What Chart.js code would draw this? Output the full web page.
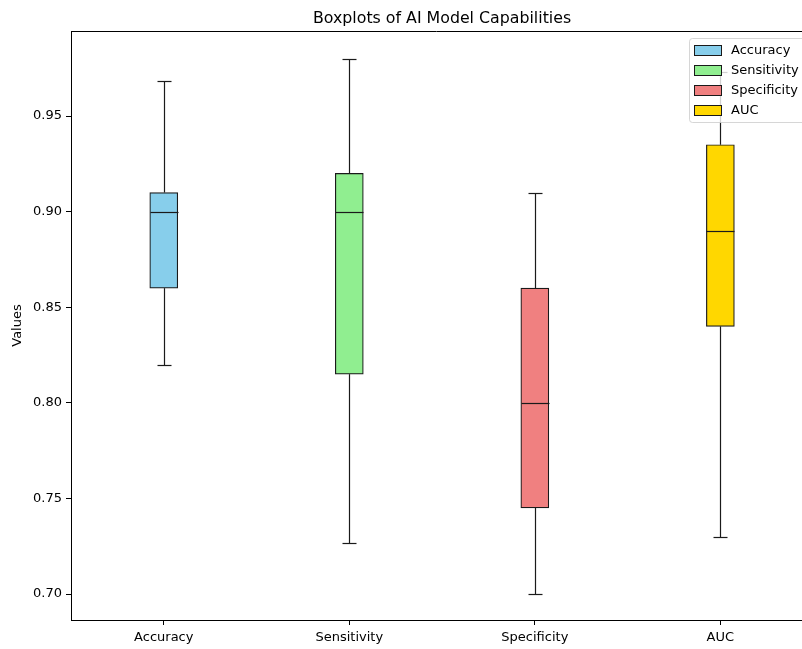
<!DOCTYPE html>
<html lang="en">
<head>
    <meta charset="UTF-8">
    <title>Boxplots of AI Model Capabilities</title>
    <script src="https://cdn.jsdelivr.net/npm/chart.js"></script>
    <style>
        html, body { margin: 0; padding: 0; background: #fff; }
        #wrap { width: 802px; height: 649px; }
    </style>
</head>
<body>
    <div id="wrap"><canvas id="boxChart"></canvas></div>

    <script>
        // values
        const categories = ['Accuracy', 'Sensitivity', 'Specificity', 'AUC'];
        const lowWhiskers = [0.82, 0.7265, 0.70, 0.73];
        const lowerQuartiles = [0.86, 0.815, 0.745, 0.84];
        const medians = [0.90, 0.90, 0.80, 0.89];
        const upperQuartiles = [0.91, 0.92, 0.86, 0.935];
        const highWhiskers = [0.9685, 0.98, 0.91, 0.973];
        const boxColors = ['#87ceeb', '#90ee90', '#f08080', '#ffd700'];
        const yTickValues = [0.70, 0.75, 0.80, 0.85, 0.90, 0.95];

        const FONT = 'DejaVu Sans';

        // whiskers, medians, frame, title and legend drawn on top of the bars
        const boxExtras = {
            id: 'boxExtras',
            afterDatasetsDraw(chart) {
                const { ctx, chartArea, scales: { x, y } } = chart;
                const boxW = 28, capW = 14;
                ctx.save();
                ctx.lineWidth = 1.2;
                ctx.strokeStyle = '#1a1a1a';
                categories.forEach((c, i) => {
                    const px = Math.round(x.getPixelForValue(i + 1)) + 0.5;
                    const line = (x1, y1, x2, y2) => {
                        ctx.beginPath();
                        ctx.moveTo(x1, y1);
                        ctx.lineTo(x2, y2);
                        ctx.stroke();
                    };
                    const yMin = Math.round(y.getPixelForValue(lowWhiskers[i])) + 0.5;
                    const yMax = Math.round(y.getPixelForValue(highWhiskers[i])) + 0.5;
                    line(px, y.getPixelForValue(upperQuartiles[i]), px, yMax);
                    line(px, y.getPixelForValue(lowerQuartiles[i]), px, yMin);
                    line(px - capW / 2, yMax, px + capW / 2, yMax);
                    line(px - capW / 2, yMin, px + capW / 2, yMin);
                    const yMed = Math.round(y.getPixelForValue(medians[i])) + 0.5;
                    line(px - boxW / 2, yMed, px + boxW / 2, yMed);
                });

                // top spine
                ctx.lineWidth = 1;
                ctx.strokeStyle = '#000';
                ctx.beginPath();
                ctx.moveTo(chartArea.left, chartArea.top + 0.5);
                ctx.lineTo(chartArea.right, chartArea.top + 0.5);
                ctx.stroke();

                // title centred on the full axes (which run past the canvas edge)
                const mid = (x.getPixelForValue(0.5) + x.getPixelForValue(4.5)) / 2;
                ctx.fillStyle = '#000';
                ctx.font = '15.8px "' + FONT + '"';
                ctx.textAlign = 'center';
                ctx.textBaseline = 'middle';
                ctx.fillText('Boxplots of AI Model Capabilities', mid, 18.5);

                // legend in the upper right corner
                const lx = 689, ly = 38, lw = 130, lh = 84;
                ctx.globalAlpha = 0.8;
                ctx.fillStyle = '#fff';
                ctx.strokeStyle = '#ccc';
                ctx.beginPath();
                ctx.roundRect(lx + 0.5, ly + 0.5, lw, lh, 3);
                ctx.fill();
                ctx.stroke();
                ctx.globalAlpha = 1;
                ctx.font = '13px "' + FONT + '"';
                ctx.textAlign = 'left';
                categories.forEach((c, i) => {
                    const cy = 50 + i * 20;
                    ctx.fillStyle = boxColors[i];
                    ctx.fillRect(694, cy - 5, 28, 10);
                    ctx.strokeStyle = '#1a1a1a';
                    ctx.strokeRect(694.5, cy - 4.5, 27, 10);
                    ctx.fillStyle = '#000';
                    ctx.fillText(c, 731, cy + 0.5);
                });
                ctx.restore();
            }
        };

        const ctx = document.getElementById('boxChart').getContext('2d');
        const boxChart = new Chart(ctx, {
            type: 'bar',
            data: {
                datasets: [{
                    label: 'Boxes',
                    data: categories.map((c, i) => ({ x: i + 1, y: [lowerQuartiles[i], upperQuartiles[i]] })),
                    backgroundColor: boxColors,
                    borderColor: '#1a1a1a',
                    borderWidth: 1.2,
                    borderSkipped: false,
                    barThickness: 28,
                    grouped: false
                }]
            },
            options: {
                responsive: true,
                maintainAspectRatio: false,
                animation: false,
                layout: { padding: { top: 31, left: 0, right: 0, bottom: 0 } },
                plugins: {
                    legend: { display: false },
                    title: { display: false },
                    tooltip: { enabled: false }
                },
                scales: {
                    x: {
                        type: 'linear',
                        offset: false,
                        min: 0.5,
                        max: 4.44,
                        afterBuildTicks: scale => {
                            scale.ticks = categories.map((c, i) => ({ value: i + 1 }));
                        },
                        afterFit: scale => { scale.height = 29; },
                        ticks: {
                            callback: v => categories[v - 1],
                            color: '#000',
                            padding: 5,
                            font: { family: FONT, size: 13 },
                            maxRotation: 0
                        },
                        grid: { offset: false, drawOnChartArea: false, drawTicks: true, tickLength: 5, color: '#000' },
                        border: { display: true, color: '#000' }
                    },
                    y: {
                        min: 0.6864,
                        max: 0.9945,
                        afterBuildTicks: scale => {
                            scale.ticks = yTickValues.map(v => ({ value: v }));
                        },
                        afterFit: scale => { scale.width = 71; },
                        ticks: {
                            callback: v => v.toFixed(2),
                            color: '#000',
                            padding: 4,
                            font: { family: FONT, size: 13 }
                        },
                        grid: { drawOnChartArea: false, drawTicks: true, tickLength: 5, color: '#000' },
                        border: { display: true, color: '#000' },
                        title: {
                            display: true,
                            text: 'Values',
                            color: '#000',
                            padding: { top: 10, bottom: 0 },
                            font: { family: FONT, size: 13 }
                        }
                    }
                }
            },
            plugins: [boxExtras]
        });
    </script>
</body>
</html>
